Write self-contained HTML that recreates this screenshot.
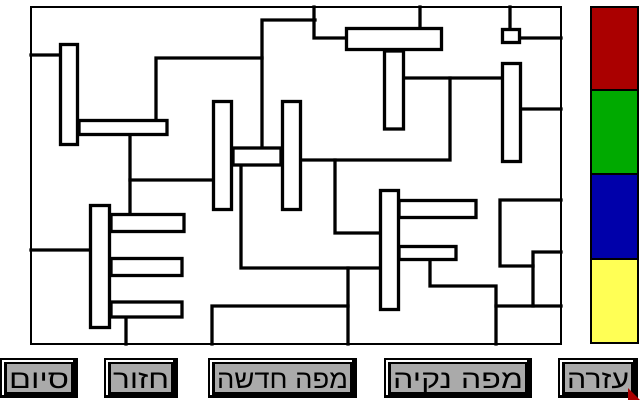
<!DOCTYPE html>
<html><head><meta charset="utf-8"><style>
html,body{margin:0;padding:0;background:#fff;width:640px;height:400px;overflow:hidden}
svg{display:block}
text{font-family:"Liberation Sans","DejaVu Sans",sans-serif;font-size:26px;font-weight:normal;fill:#000}
</style></head><body>
<svg width="640" height="400" viewBox="0 0 640 400" xmlns="http://www.w3.org/2000/svg">
<g fill="none" stroke="#000" stroke-width="3.3" stroke-linecap="square">
<rect x="31" y="7" width="530" height="337" stroke-width="2"/>
<polyline points="31,55 60,55"/>
<rect x="60.5" y="44.5" width="17" height="100" fill="#fff"/>
<rect x="79" y="120.5" width="88" height="14"/>
<polyline points="156,120 156,58 262,58"/>
<polyline points="262,146 262,20 315,20"/>
<polyline points="314,7 314,38 346,38"/>
<line x1="420" y1="7" x2="420" y2="28"/>
<rect x="346.5" y="28.5" width="95" height="21"/>
<rect x="384.5" y="51" width="19" height="78"/>
<polyline points="405,78 502,78"/>
<polyline points="450,78 450,160 301,160"/>
<line x1="510" y1="7" x2="510" y2="29"/>
<rect x="502.5" y="29.5" width="17" height="13"/>
<line x1="521" y1="38" x2="561" y2="38"/>
<rect x="502.5" y="63.5" width="18" height="98"/>
<line x1="522" y1="109" x2="561" y2="109"/>
<rect x="213.5" y="101.5" width="18" height="108"/>
<rect x="282.5" y="101.5" width="18" height="108"/>
<rect x="233" y="148" width="48" height="17"/>
<polyline points="130,136 130,213"/>
<line x1="130" y1="180" x2="212" y2="180"/>
<polyline points="241,166 241,268 380,268"/>
<polyline points="335,160 335,233 380,233"/>
<rect x="380.5" y="190.5" width="18" height="119"/>
<rect x="399" y="200.5" width="77" height="17"/>
<rect x="399" y="246.5" width="57" height="13"/>
<polyline points="430,261 430,286 496,286 496,344"/>
<line x1="496" y1="306" x2="561" y2="306"/>
<polyline points="561,200 500,200 500,266 533,266"/>
<polyline points="533,306 533,252 561,252"/>
<line x1="348" y1="268" x2="348" y2="344"/>
<polyline points="212,344 212,306 348,306"/>
<rect x="90.5" y="205.5" width="19" height="122" fill="#fff"/>
<rect x="111" y="214.5" width="73" height="17"/>
<rect x="111" y="258.5" width="71" height="17"/>
<rect x="111" y="302" width="71" height="15"/>
<line x1="31" y1="250" x2="89" y2="250"/>
<line x1="126" y1="319" x2="126" y2="344"/>
</g>
<g stroke="#000" stroke-width="2">
<rect x="591" y="7" width="47" height="83" fill="#aa0000"/>
<rect x="591" y="90" width="47" height="84" fill="#00aa00"/>
<rect x="591" y="174" width="47" height="85" fill="#0000aa"/>
<rect x="591" y="259" width="47" height="84" fill="#ffff55"/>
</g>
<g>
<g transform="translate(0,358)">
<rect width="78" height="40" fill="#000"/><rect x="7" y="6" width="64" height="28" fill="#aaa"/>
<polyline points="3,37 3,3 73,3" fill="none" stroke="#fff" stroke-width="2"/>
<text x="9" y="30" textLength="60" lengthAdjust="spacingAndGlyphs">סיום</text></g>
<g transform="translate(104,358)">
<rect width="74" height="40" fill="#000"/><rect x="7" y="6" width="60" height="28" fill="#aaa"/>
<polyline points="3,37 3,3 69,3" fill="none" stroke="#fff" stroke-width="2"/>
<text x="9" y="30" textLength="56" lengthAdjust="spacingAndGlyphs">חזור</text></g>
<g transform="translate(208,358)">
<rect width="149" height="40" fill="#000"/><rect x="7" y="6" width="135" height="28" fill="#aaa"/>
<polyline points="3,37 3,3 144,3" fill="none" stroke="#fff" stroke-width="2"/>
<text x="9" y="30" textLength="131" lengthAdjust="spacingAndGlyphs">מפה  חדשה</text></g>
<g transform="translate(384,358)">
<rect width="148" height="40" fill="#000"/><rect x="7" y="6" width="134" height="28" fill="#aaa"/>
<polyline points="3,37 3,3 143,3" fill="none" stroke="#fff" stroke-width="2"/>
<text x="9" y="30" textLength="130" lengthAdjust="spacingAndGlyphs">מפה  נקיה</text></g>
<g transform="translate(558,358)">
<rect width="80" height="40" fill="#000"/><rect x="7" y="6" width="66" height="28" fill="#aaa"/>
<polyline points="3,37 3,3 75,3" fill="none" stroke="#fff" stroke-width="2"/>
<text x="9" y="30" textLength="62" lengthAdjust="spacingAndGlyphs">עזרה</text></g>
<polygon points="628,388 628,400 640,400" fill="#aa0000"/>
</g>
</svg>
</body></html>
